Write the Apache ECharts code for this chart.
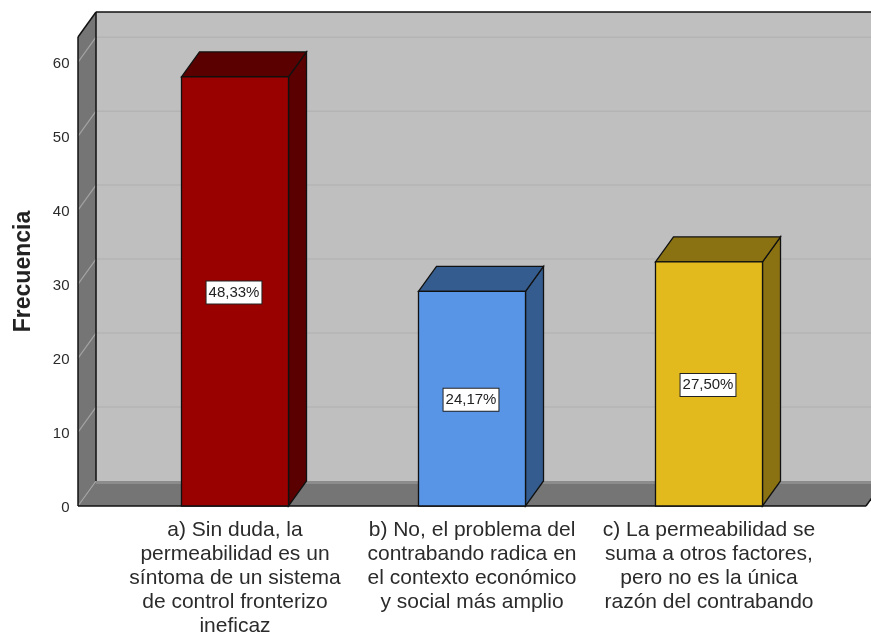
<!DOCTYPE html>
<html>
<head>
<meta charset="utf-8">
<style>html,body{margin:0;padding:0;background:#fff}#c{width:871px;height:635px}</style>
<script src="https://cdn.jsdelivr.net/npm/echarts@6/dist/echarts.min.js"></script>
</head>
<body>
<div id="c"></div>
<script>
const categories = [
  "a) Sin duda, la\npermeabilidad es un\nsíntoma de un sistema\nde control fronterizo\nineficaz",
  "b) No, el problema del\ncontrabando radica en\nel contexto económico\ny social más amplio",
  "c) La permeabilidad se\nsuma a otros factores,\npero no es la única\nrazón del contrabando"
];
const frequencies = [58, 29, 33];
const percentLabels = ["48,33%", "24,17%", "27,50%"];
const frontColors = ["#990000", "#5895E6", "#E2BA1E"];
const topColors = ["#5A0000", "#355C8E", "#8A7212"];
const sideColors = ["#5A0000", "#355C8E", "#8A7212"];
const axisMax = 63.4;
const tickValues = [0, 10, 20, 30, 40, 50, 60];
const axisTitle = "Frecuencia";

const DX = 18, DY = -25, EDGE = "#111111", SIDEPAD = 0.1624;

function poly(points, fill, stroke) {
  return {type: 'polygon', shape: {points}, style: {fill, stroke: stroke || 'none', lineWidth: stroke ? 1.3 : 0}};
}
function seg(a, b, stroke, w) {
  return {type: 'line', shape: {x1: a[0], y1: a[1], x2: b[0], y2: b[1]}, style: {stroke, lineWidth: w, fill: 'none'}};
}

function renderWalls(params, api) {
  const band = api.size([1, 0])[0];
  const L = api.coord([0, 0])[0] - band * (0.5 + SIDEPAD);
  const R = api.coord([categories.length - 1, 0])[0] + band * (0.5 + SIDEPAD);
  const y0 = api.coord([0, 0])[1];
  const yT = api.coord([0, axisMax])[1];
  const ch = [];
  ch.push(poly([[L + DX, yT + DY], [R + DX, yT + DY], [R + DX, y0 + DY], [L + DX, y0 + DY]], '#BFBFBF'));
  ch.push(poly([[L, yT], [L + DX, yT + DY], [L + DX, y0 + DY], [L, y0]], '#757575'));
  ch.push(poly([[L, y0], [L + DX, y0 + DY], [R + DX, y0 + DY], [R, y0]], '#757575'));
  tickValues.forEach(v => {
    const y = api.coord([0, v])[1];
    ch.push(seg([L, y], [L + DX, y + DY], '#A3A3A3', 1.2));
    if (v > 0) ch.push(seg([L + DX, y + DY], [R + DX, y + DY], '#B4B4B4', 1.5));
  });
  ch.push(seg([L + DX, y0 + DY + 1.5], [R + DX, y0 + DY + 1.5], '#8C8C8C', 3));
  ch.push(seg([L, y0], [L, yT], EDGE, 1.5));
  ch.push(seg([L, yT], [L + DX, yT + DY], EDGE, 1.5));
  ch.push(seg([L + DX, yT + DY], [R + DX, yT + DY], EDGE, 1.5));
  ch.push(seg([L + DX, yT + DY], [L + DX, y0 + DY], EDGE, 1.5));
  ch.push(seg([L, y0], [R, y0], EDGE, 1.5));
  ch.push(seg([R, y0], [R + DX, y0 + DY], EDGE, 1.5));
  return {type: 'group', children: ch};
}

function renderBar(params, api) {
  const i = params.dataIndex;
  const c = api.coord([api.value(0), api.value(1)]);
  const base = api.coord([api.value(0), 0]);
  const w = api.size([1, 0])[0] * 0.4515;
  const l = c[0] - w / 2, r = c[0] + w / 2, t = c[1], b = base[1];
  return {type: 'group', children: [
    poly([[r, t], [r + DX, t + DY], [r + DX, b + DY], [r, b]], sideColors[i], EDGE),
    poly([[l, t], [l + DX, t + DY], [r + DX, t + DY], [r, t]], topColors[i], EDGE),
    poly([[l, t], [r, t], [r, b], [l, b]], frontColors[i], EDGE),
    {type: 'text', z2: 10, style: {
      text: percentLabels[i], x: c[0] - 1, y: (t + b) / 2 + 1,
      align: 'center', verticalAlign: 'middle',
      font: '15px "Liberation Sans", Arial, sans-serif', fill: '#222',
      backgroundColor: '#fff', borderColor: '#222', borderWidth: 1,
      padding: [4, 2, 3, 2]
    }}
  ]};
}

const chart = echarts.init(document.getElementById('c'), null, {renderer: 'canvas'});
chart.setOption({
  animation: false,
  backgroundColor: '#ffffff',
  grid: {left: 116.5, width: 711, top: 37, bottom: 129, containLabel: false, outerBoundsMode: 'none'},
  xAxis: {
    type: 'category', data: categories,
    axisLine: {show: false}, axisTick: {show: false}, splitLine: {show: false},
    axisLabel: {interval: 0, margin: 12, color: '#2b2b2b', fontSize: 21, lineHeight: 24,
      fontFamily: '"Liberation Sans", Arial, sans-serif', align: 'center', verticalAlign: 'top'}
  },
  yAxis: {
    type: 'value', min: 0, max: axisMax, interval: 10,
    name: axisTitle, nameLocation: 'middle', nameGap: 81, nameRotate: 90,
    nameTextStyle: {fontSize: 23, fontWeight: 'bold', color: '#222', fontFamily: '"Liberation Sans", Arial, sans-serif'},
    axisLine: {show: false}, axisTick: {show: false}, splitLine: {show: false},
    axisLabel: {margin: 47, showMaxLabel: false, formatter: '{v|{value}}',
      rich: {v: {color: '#2b2b2b', fontSize: 15, padding: [3, 0, 0, 0],
      fontFamily: '"Liberation Sans", Arial, sans-serif'}}}
  },
  series: [
    {type: 'custom', name: 'walls', coordinateSystem: 'cartesian2d', silent: true, z: 1,
     renderItem: renderWalls, data: [[0, 0]], encode: {x: 0, y: 1}},
    {type: 'custom', name: axisTitle, coordinateSystem: 'cartesian2d', silent: true, z: 2,
     renderItem: renderBar, data: frequencies.map((v, i) => [i, v]), encode: {x: 0, y: 1}}
  ]
});
</script>
</body>
</html>
